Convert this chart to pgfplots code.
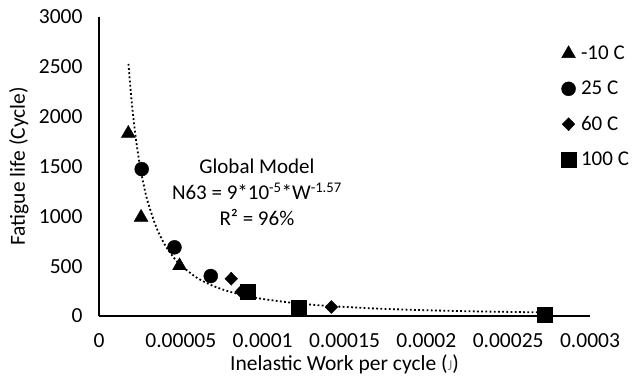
\documentclass[border=0pt]{standalone}
\usepackage{pgfplots}
\pgfplotsset{compat=1.18}
\usepackage{fontspec}
\setmainfont{Carlito}

% measured fatigue data, one table per temperature
\pgfplotstableread{
W        N
1.79e-5  1832
2.57e-5  990
4.92e-5  504
}\tminusten
\pgfplotstableread{
W        N
2.61e-5  1474
4.61e-5  689
6.83e-5  401
}\ttwentyfive
\pgfplotstableread{
W        N
8.08e-5  374
8.69e-5  244
1.42e-4  90
}\tsixty
\pgfplotstableread{
W        N
9.09e-5  245
1.22e-4  87
2.725e-4 12
}\thundred
% power-law trend N63 = 9e-5 * W^-1.57
\pgfplotstableread{
W        N
1.8e-5   2530
2.0e-5   2144
2.25e-5  1783
2.5e-5   1511
2.75e-5  1301
3.0e-5   1135
3.5e-5   891
4.0e-5   722
4.5e-5   601
5.0e-5   509
6.0e-5   382
7.0e-5   300
8.0e-5   243
9.0e-5   202
1.0e-4   171
1.2e-4   129
1.4e-4   101
1.7e-4   74.5
2.0e-4   57.8
2.3e-4   46.4
2.725e-4 35.5
}\ttrend

\begin{document}
\begin{tikzpicture}
\path[use as bounding box] (0,0) rectangle (632pt,376pt);
\begin{axis}[
  at={(99pt,60pt)}, anchor=south west,
  scale only axis, width=491pt, height=299pt,
  xmin=0, xmax=0.0003, ymin=0, ymax=3000,
  axis lines=left,
  axis line style={line width=1.2pt, black, -},
  xtick={0,0.00005,0.0001,0.00015,0.0002,0.00025,0.0003},
  xticklabels={0,0.00005,0.0001,0.00015,0.0002,0.00025,0.0003},
  ytick={0,500,1000,1500,2000,2500,3000},
  major tick length=0pt,
  scaled x ticks=false,
  /pgf/number format/assume math mode=true,
  /pgf/number format/set thousands separator={},
  tick label style={font=\fontsize{21.5}{25}\selectfont, black},
  xticklabel style={yshift=-14pt},
  yticklabel style={xshift=-13pt},
  xlabel={Inelastic Work per cycle (\textcolor{gray}{\fontsize{15}{18}\selectfont J})},
  ylabel={Fatigue life (Cycle)},
  label style={font=\fontsize{21.5}{25}\selectfont},
  xlabel style={at={(axis description cs:0.5,-0.163)}, anchor=center},
  ylabel style={at={(axis description cs:-0.163,0.5)}, anchor=center},
  legend style={draw=none, fill=none, at={(axis cs:0.0002822,2730)}, anchor=north west,
    font=\fontsize{21}{25}\selectfont, row sep=16pt, inner sep=0pt,
    /tikz/every odd column/.append style={column sep=3pt}},
  legend cell align=left,
  legend image code/.code={\draw[#1] plot coordinates {(0pt,0pt)};},
  clip=false,
]
\addplot[black, line width=1.8pt, dash pattern=on 1.8pt off 2.4pt, smooth, forget plot] table {\ttrend};
\addplot[only marks, mark=triangle*, mark size=8pt, black] table {\tminusten};
\addlegendentry{-10 C}
\addplot[only marks, mark=*, mark size=7pt, black] table {\ttwentyfive};
\addlegendentry{25 C}
\addplot[only marks, mark=diamond*, mark size=6.5pt, mark options={xscale=1.3}, black] table {\tsixty};
\addlegendentry{60 C}
\addplot[only marks, mark=square*, mark size=7.5pt, black] table {\thundred};
\addlegendentry{100 C}
\node[align=center, font=\fontsize{21}{26}\selectfont] at (axis cs:0.0000965,1240)
  {Global Model\\N63 = 9*10\textsuperscript{-5}*W\textsuperscript{-1.57}\\R² = 96\%};
\end{axis}
\end{tikzpicture}
\end{document}
